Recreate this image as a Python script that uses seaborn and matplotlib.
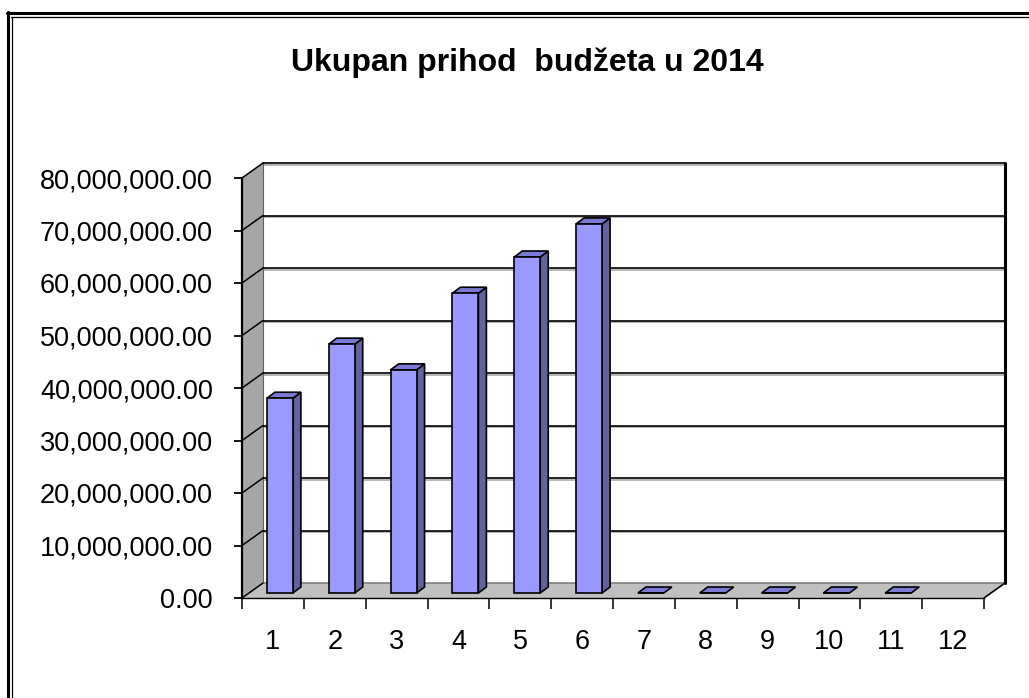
import numpy as np
import pandas as pd
import matplotlib
matplotlib.use("Agg")
import matplotlib.pyplot as plt
from matplotlib.patches import Polygon
from matplotlib.lines import Line2D
from matplotlib.transforms import ScaledTranslation, IdentityTransform
import seaborn as sns

# chart data
title = "Ukupan prihod  budžeta u 2014"
months = ["1", "2", "3", "4", "5", "6", "7", "8", "9", "10", "11", "12"]
revenue = [37.1e6, 47.4e6, 42.5e6, 57.1e6, 64.0e6, 70.3e6, 0, 0, 0, 0, 0, np.nan]
y_ticks = [0, 10e6, 20e6, 30e6, 40e6, 50e6, 60e6, 70e6, 80e6]

df = pd.DataFrame({"mjesec": months, "prihod": revenue})

sns.set_theme(style="white")
plt.rcParams["font.family"] = ["Liberation Sans", "DejaVu Sans"]

DPI = 100
W, H = 1029, 698
fig = plt.figure(figsize=(W / DPI, H / DPI), dpi=DPI)
fig.patch.set_facecolor("white")

# front plane of the fake 3d box
ax = fig.add_axes([242 / W, 100 / H, 742 / W, 420 / H])
ax.set_facecolor("none")

sns.barplot(data=df, x="mjesec", y="prihod", order=months, color="#9999ff",
            saturation=1, width=0.42, errorbar=None, edgecolor="black",
            linewidth=1.2, ax=ax, zorder=6)

ax.set_xlim(-0.5, 11.5)
ax.set_ylim(0, 80e6)

BACK = (21, 15)   # depth of the box in pixels
BAR = (7, 5)      # where bars sit inside the box
DEPTH = (8, 6)    # thickness of each bar

ident = IdentityTransform()


def disp(xd, yd, off=(0, 0)):
    X, Y = ax.transData.transform((xd, yd))
    return (X + off[0], Y + off[1])


def add_poly(pts, fc, ec="black", lw=1.0, z=1):
    ax.add_patch(Polygon(pts, closed=True, facecolor=fc, edgecolor=ec,
                         linewidth=lw, transform=ident, clip_on=False, zorder=z))


def add_line(p0, p1, color="black", lw=1.0, z=2):
    ax.add_line(Line2D([p0[0], p1[0]], [p0[1], p1[1]], color=color, lw=lw,
                       transform=ident, clip_on=False, zorder=z))


x0, x1 = -0.5, 11.5
top = y_ticks[-1]

# back wall
add_poly([disp(x0, 0, BACK), disp(x1, 0, BACK), disp(x1, top, BACK), disp(x0, top, BACK)],
         "white", ec="none", z=1)
# left wall
add_poly([disp(x0, 0), disp(x0, top), disp(x0, top, BACK), disp(x0, 0, BACK)],
         "#a6a6a6", ec="none", z=1)
# floor
add_poly([disp(x0, 0), disp(x1, 0), disp(x1, 0, BACK), disp(x0, 0, BACK)],
         "#c0c0c0", ec="none", z=1.5)

# gridlines on back wall and diagonals on the left wall
for v in y_ticks:
    a = disp(x0, v, BACK)
    b = disp(x1, v, BACK)
    if v > 0:
        add_line((a[0], a[1] - 1.5), (b[0], b[1] - 1.5), color="#a0a0a0", lw=1.1, z=2)
        add_line(a, b, color="black", lw=1.2, z=2.1)
    else:
        add_line(a, b, color="#808080", lw=1.2, z=2.1)
    add_line(disp(x0, v), a, color="black", lw=1.1, z=2.2)

add_line(disp(x0, 0, BACK), disp(x0, top, BACK), color="#606060", lw=0.8, z=2)
add_line(disp(x1, 0, BACK), disp(x1, top, BACK), color="black", lw=2.2, z=2.3)
add_line(disp(x1, 0), disp(x1, 0, BACK), color="black", lw=1.2, z=2.3)

# turn flat seaborn bars into columns with side and top faces
shift = ScaledTranslation(BAR[0] / DPI, BAR[1] / DPI, fig.dpi_scale_trans)
for p in list(ax.patches):
    if not hasattr(p, "get_height"):
        continue
    h = p.get_height()
    if not np.isfinite(h):
        p.set_visible(False)
        continue
    bx, bw = p.get_x(), p.get_width()
    p.set_transform(ax.transData + shift)
    ll = disp(bx, 0, BAR)
    lr = disp(bx + bw, 0, BAR)
    ul = disp(bx, h, BAR)
    ur = disp(bx + bw, h, BAR)
    d = DEPTH
    if h > 0:
        add_poly([lr, ur, (ur[0] + d[0], ur[1] + d[1]), (lr[0] + d[0], lr[1] + d[1])],
                 "#62629f", lw=1.2, z=5)
    add_poly([ul, ur, (ur[0] + d[0], ur[1] + d[1]), (ul[0] + d[0], ul[1] + d[1])],
             "#7a7ad6", lw=1.2, z=5.5)

# axes, ticks and labels
for s in ["top", "right"]:
    ax.spines[s].set_visible(False)
ax.spines["left"].set_color("black")
ax.spines["left"].set_linewidth(1.6)
ax.spines["bottom"].set_color("black")
ax.spines["bottom"].set_linewidth(1.0)
ax.spines["left"].set_zorder(3)
ax.spines["bottom"].set_zorder(3)

ax.set_yticks(y_ticks)
ax.set_yticklabels([f"{v:,.2f}" for v in y_ticks])
ax.tick_params(axis="y", left=True, direction="out", length=6, width=1.3,
               color="black", labelsize=19.5, pad=15, labelcolor="black")

ax.set_xticks(np.arange(-0.5, 12, 1))
ax.set_xticklabels([])
ax.set_xticks(np.arange(len(months)), minor=True)
ax.set_xticklabels(months, minor=True)
ax.tick_params(axis="x", which="major", bottom=True, direction="out", length=8,
               width=1.1, color="black")
ax.tick_params(axis="x", which="minor", bottom=True, length=0, labelsize=19.5,
               pad=22, labelcolor="black")
ax.set_xlabel("")
ax.set_ylabel("")

fig.text(527 / W, 1 - 71 / H, title, ha="center", va="baseline",
         fontsize=23, fontweight="bold", color="black")

# double border of the chart area (top and left)
fig.add_artist(Line2D([7 / W, 1], [1 - 13 / H, 1 - 13 / H], color="black", lw=2.2,
                      transform=fig.transFigure))
fig.add_artist(Line2D([11 / W, 1], [1 - 17 / H, 1 - 17 / H], color="black", lw=0.9,
                      transform=fig.transFigure))
fig.add_artist(Line2D([8 / W, 8 / W], [1 - 12 / H, 0], color="black", lw=2.2,
                      transform=fig.transFigure))
fig.add_artist(Line2D([11.5 / W, 11.5 / W], [1 - 17 / H, 0], color="black", lw=0.9,
                      transform=fig.transFigure))

fig.savefig("out.png", dpi=DPI)
